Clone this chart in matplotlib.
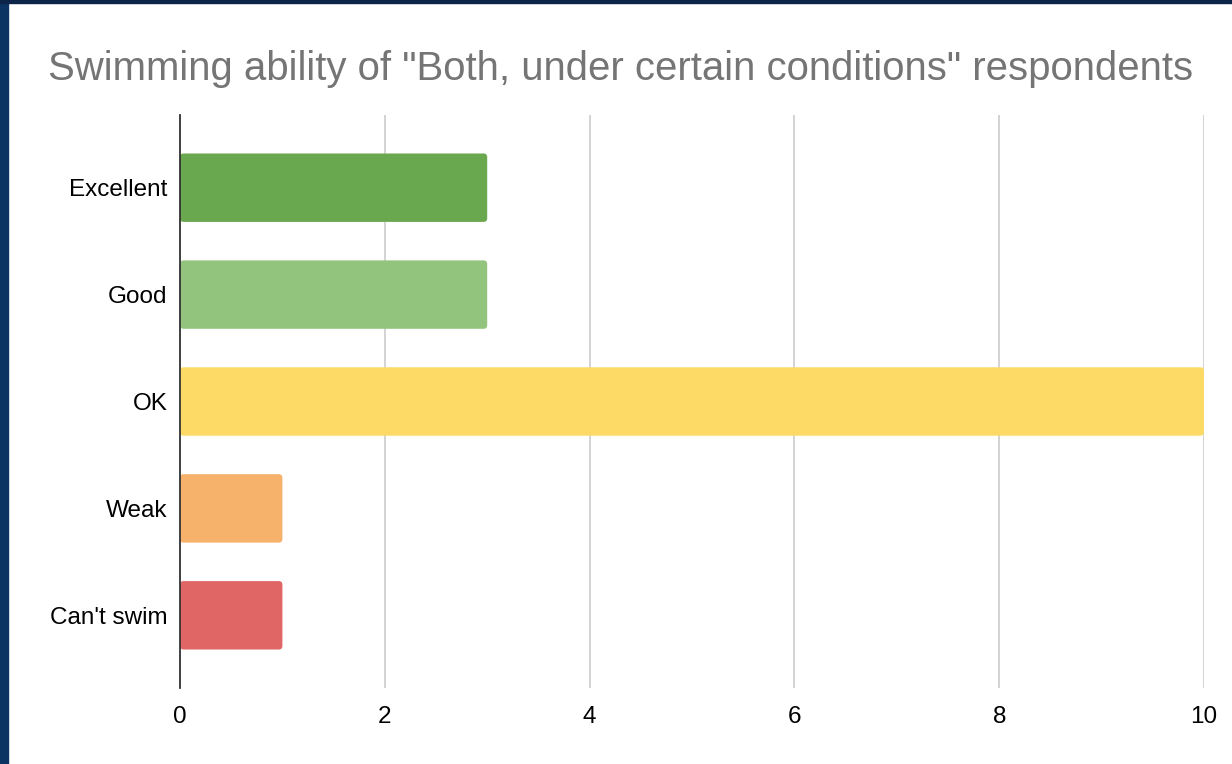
import matplotlib.pyplot as plt
from matplotlib.patches import Rectangle, FancyBboxPatch

# datos
categorias = ["Excellent", "Good", "OK", "Weak", "Can't swim"]
valores = [3, 3, 10, 1, 1]
colores = ["#6aa84f", "#93c47d", "#fdd966", "#f6b26b", "#e06666"]
marcas_x = [0, 2, 4, 6, 8, 10]

plt.rcParams['font.family'] = ['Liberation Sans', 'DejaVu Sans']

fig = plt.figure(figsize=(12.32, 7.64), dpi=100)
W, H = 1232, 764

# marco oscuro (izquierda y arriba)
fig.add_artist(Rectangle((0, 0), 8 / W, 1, transform=fig.transFigure,
                         color="#0b3463", zorder=0))
fig.add_artist(Rectangle((0, 1 - 3 / H), 1, 3 / H, transform=fig.transFigure,
                         color="#0b2448", zorder=0))

ax = fig.add_axes([180 / W, 1 - 688 / H, (1204 - 180) / W, (688 - 115) / H])

y = list(range(len(categorias)))
barras = ax.barh(y, valores, height=0.64, color=colores, zorder=3)

# esquinas redondeadas
for b in barras:
    b.set_visible(False)
    p = FancyBboxPatch((b.get_x(), b.get_y()), b.get_width(), b.get_height(),
                       boxstyle="round,pad=0,rounding_size=0.035",
                       mutation_aspect=1.0,
                       facecolor=b.get_facecolor(), edgecolor='none', zorder=3)
    ax.add_patch(p)

ax.set_ylim(len(categorias) - 1 + 0.68, -0.68)
ax.set_xlim(0, 10)
ax.set_yticks(y)
ax.set_yticklabels(categorias, fontsize=17.5)
ax.set_xticks(marcas_x)
ax.set_xticklabels([str(m) for m in marcas_x], fontsize=17.5)
ax.tick_params(length=0, pad=9)
ax.tick_params(axis='x', pad=13)

ax.grid(axis='x', color="#cccccc", linewidth=1.2, zorder=0)
for lado in ['top', 'right', 'bottom']:
    ax.spines[lado].set_visible(False)
ax.spines['left'].set_color("#333333")
ax.spines['left'].set_linewidth(1.3)
ax.spines['left'].set_zorder(4)

fig.text(48 / W, 1 - 80 / H, "Swimming ability of \"Both, under certain conditions\" respondents",
         fontsize=28.9, color="#757575", ha='left', va='baseline')

fig.savefig("out.png", dpi=100)
